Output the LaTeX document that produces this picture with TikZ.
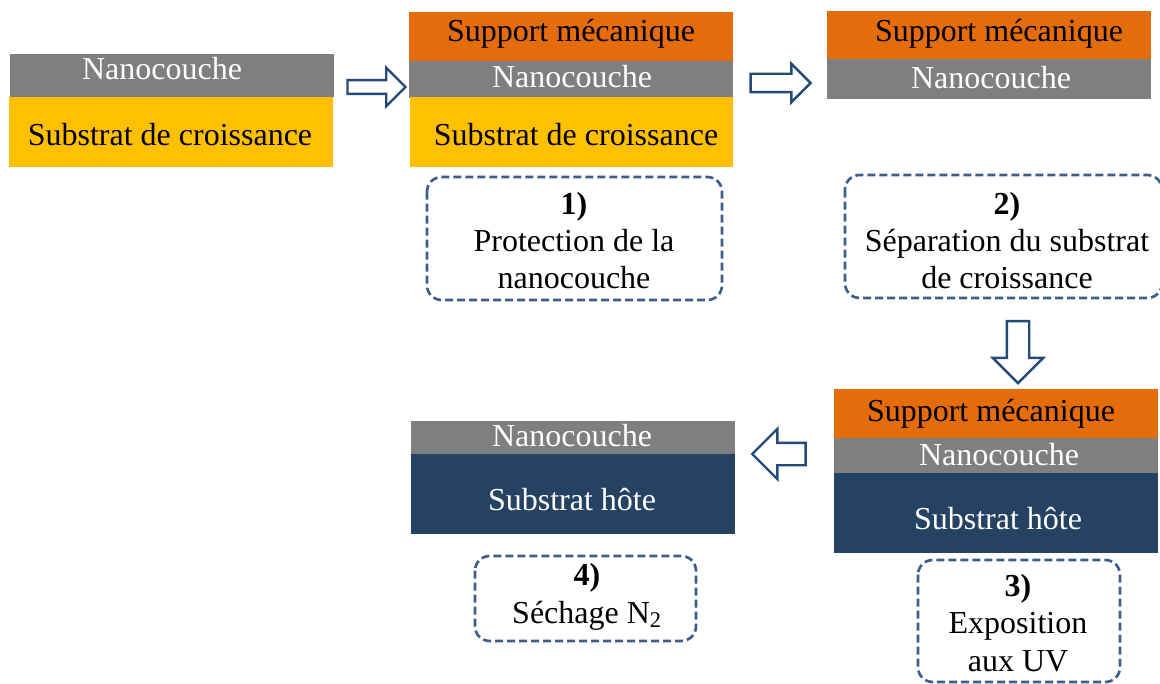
\documentclass[tikz,border=0pt]{standalone}
\usepackage{fontspec}
\setmainfont{Liberation Serif}
\usetikzlibrary{shapes.arrows}

\definecolor{couchegris}{HTML}{7F7F7F}
\definecolor{croissance}{HTML}{FFC000}
\definecolor{support}{HTML}{E46C0A}
\definecolor{hote}{HTML}{264263}
\definecolor{tirets}{HTML}{3B5E8C}
\definecolor{fleche}{HTML}{244A7A}

\begin{document}
\begin{tikzpicture}[x=0.75pt,y=-0.75pt,
  lbl/.style={anchor=base,inner sep=0pt,font=\fontsize{24}{28}\selectfont},
  steptxt/.style={lbl,align=center},
  stepbox/.style={draw=tirets,line width=2pt,dash pattern=on 6pt off 3pt,rounded corners=11pt},
  bigarrow/.style={single arrow,draw=fleche,fill=white,line width=1.8pt,inner xsep=0pt,single arrow head indent=0pt}]
\useasboundingbox (0,0) rectangle (1160,684);

% etat initial
\fill[couchegris] (10,54) rectangle (334,97);
\fill[croissance] (9,97) rectangle (333,167);
\node[lbl,text=white] (n0) at (162,80) {Nanocouche};
\node[lbl] (c0) at (170,146) {Substrat de croissance};

\node[bigarrow,minimum height=43.5pt,inner ysep=4.3pt,single arrow head extend=9.2pt] (f1) at (373,87) {};

% 1) protection
\fill[support] (409,12) rectangle (733,61);
\fill[couchegris] (409,61) rectangle (733,98);
\fill[croissance] (410,97) rectangle (733,167);
\node[lbl] (s1) at (571,42) {Support mécanique};
\node[lbl,text=white] (n1) at (572,88) {Nanocouche};
\node[lbl] (c1) at (576,146) {Substrat de croissance};
\draw[stepbox] (427,177) rectangle (722,300);
\node[steptxt] (e1) at (574,289) {\textbf{1)}\\Protection de la\\nanocouche};

\node[bigarrow,minimum height=45pt,inner ysep=6pt,single arrow head extend=7.5pt] (f2) at (776,83) {};

% 2) separation
\fill[support] (827,11) rectangle (1151,59);
\fill[couchegris] (827,59) rectangle (1151,99);
\node[lbl] (s2) at (999,42) {Support mécanique};
\node[lbl,text=white] (n2) at (991,89) {Nanocouche};
\draw[stepbox] (845,175) rectangle (1162,298);
\node[steptxt] (e2) at (1007,289) {\textbf{2)}\\Séparation du substrat\\de croissance};

\node[bigarrow,rotate=-90,minimum height=46.5pt,inner ysep=7.5pt,single arrow head extend=10.5pt] (f3) at (1018,346.5) {};

% 3) UV
\fill[support] (834,389) rectangle (1158,438);
\fill[couchegris] (834,438) rectangle (1158,473);
\fill[hote] (834,473) rectangle (1158,553);
\node[lbl] (s3) at (991,421) {Support mécanique};
\node[lbl,text=white] (n3) at (999,465) {Nanocouche};
\node[lbl,text=white] (h3) at (998,529) {Substrat hôte};
\draw[stepbox] (918,560) rectangle (1120,682);
\node[steptxt] (e3) at (1018,671) {\textbf{3)}\\Exposition\\aux UV};

\node[bigarrow,rotate=180,minimum height=40pt,inner ysep=7.5pt,single arrow head extend=10.5pt] (f4) at (784.5,454) {};

% 4) sechage
\fill[couchegris] (411,421) rectangle (735,454);
\fill[hote] (411,454) rectangle (735,534);
\node[lbl,text=white] (n4) at (572,446) {Nanocouche};
\node[lbl,text=white] (h4) at (572,510) {Substrat hôte};
\draw[stepbox] (475,556) rectangle (696,641);
\node[steptxt] (e4) at (587,623) {\textbf{4)}\\Séchage N\textsubscript{2}};

\end{tikzpicture}
\end{document}
